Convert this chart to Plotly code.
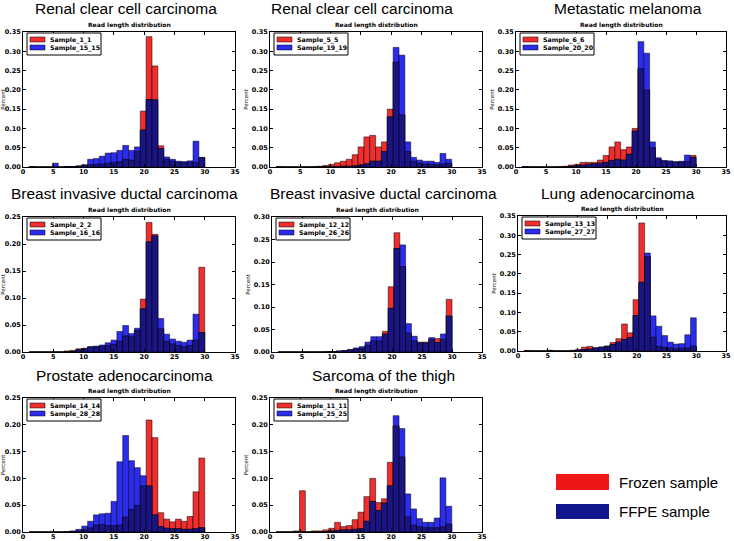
import numpy as np
import plotly.graph_objects as go

# ---------------- data ----------------
BIN_LO, BIN_HI, N_BINS = 1.0, 30.0, 30

titles = ["Renal clear cell carcinoma", "Renal clear cell carcinoma", "Metastatic melanoma",
          "Breast invasive ductal carcinoma", "Breast invasive ductal carcinoma", "Lung adenocarcinoma",
          "Prostate adenocarcinoma", "Sarcoma of the thigh"]
frozen_names = ["Sample_1_1", "Sample_5_5", "Sample_6_6", "Sample_2_2",
                "Sample_12_12", "Sample_13_13", "Sample_14_14", "Sample_11_11"]
ffpe_names = ["Sample_15_15", "Sample_19_19", "Sample_20_20", "Sample_16_16",
              "Sample_26_26", "Sample_27_27", "Sample_28_28", "Sample_25_25"]
y_max = [0.35, 0.35, 0.35, 0.25, 0.30, 0.35, 0.25, 0.25]
key_labels = ["Frozen sample", "FFPE sample"]

frozen_1 = [0.001, 0, 0, 0, 0, 0, 0.001, 0.001, 0.002, 0.004, 0.006, 0.007, 0.008, 0.010, 0.012,
            0.014, 0.020, 0.018, 0.040, 0.145, 0.338, 0.262, 0.055, 0.020, 0.015, 0.012, 0.011, 0.012, 0.012, 0.025]
ffpe_1 = [0.001, 0, 0, 0, 0.010, 0, 0.001, 0.001, 0.003, 0.006, 0.020, 0.022, 0.028, 0.036, 0.037,
          0.043, 0.056, 0.043, 0.052, 0.096, 0.175, 0.174, 0.048, 0.026, 0.020, 0.015, 0.014, 0.016, 0.067, 0.024]

frozen_2 = [0.001, 0, 0, 0, 0, 0, 0.001, 0.002, 0.004, 0.007, 0.011, 0.015, 0.020, 0.032, 0.052,
            0.078, 0.082, 0.052, 0.065, 0.150, 0.272, 0.135, 0.040, 0.015, 0.010, 0.008, 0.007, 0.006, 0.008, 0.010]
ffpe_2 = [0, 0, 0, 0, 0, 0, 0, 0, 0, 0.001, 0.001, 0.002, 0.002, 0.003, 0.005,
          0.008, 0.015, 0.015, 0.040, 0.130, 0.310, 0.290, 0.065, 0.025, 0.018, 0.015, 0.015, 0.012, 0.035, 0.020]

frozen_3 = [0.001, 0, 0, 0, 0, 0, 0.001, 0.002, 0.005, 0.007, 0.012, 0.012, 0.012, 0.018, 0.030,
            0.052, 0.065, 0.045, 0.052, 0.100, 0.255, 0.200, 0.050, 0.020, 0.015, 0.013, 0.012, 0.012, 0.014, 0.030]
ffpe_3 = [0.001, 0, 0, 0, 0, 0, 0, 0, 0.002, 0.003, 0.005, 0.007, 0.008, 0.010, 0.012,
          0.017, 0.020, 0.018, 0.033, 0.093, 0.325, 0.295, 0.065, 0.024, 0.017, 0.016, 0.014, 0.015, 0.031, 0.025]

frozen_4 = [0, 0, 0, 0, 0, 0, 0.002, 0.003, 0.006, 0.007, 0.009, 0.009, 0.010, 0.012, 0.014,
            0.020, 0.030, 0.028, 0.040, 0.098, 0.240, 0.218, 0.043, 0.020, 0.015, 0.012, 0.010, 0.012, 0.022, 0.157]
ffpe_4 = [0, 0, 0, 0, 0, 0, 0, 0.001, 0.004, 0.006, 0.010, 0.011, 0.013, 0.017, 0.022,
          0.038, 0.049, 0.034, 0.044, 0.080, 0.204, 0.215, 0.062, 0.033, 0.024, 0.020, 0.018, 0.022, 0.070, 0.036]

frozen_5 = [0, 0, 0, 0, 0, 0, 0, 0, 0.001, 0.001, 0.002, 0.003, 0.005, 0.007, 0.008,
            0.015, 0.025, 0.025, 0.046, 0.145, 0.265, 0.190, 0.042, 0.025, 0.020, 0.022, 0.028, 0.030, 0.028, 0.117]
ffpe_5 = [0, 0, 0, 0, 0, 0, 0, 0, 0, 0.001, 0.002, 0.003, 0.005, 0.009, 0.012,
          0.022, 0.034, 0.034, 0.040, 0.097, 0.230, 0.238, 0.063, 0.035, 0.022, 0.020, 0.032, 0.021, 0.040, 0.080]

frozen_6 = [0.001, 0, 0, 0, 0.002, 0, 0, 0, 0.002, 0.004, 0.010, 0.012, 0.008, 0.010, 0.013,
            0.022, 0.032, 0.070, 0.047, 0.133, 0.332, 0.245, 0.036, 0.012, 0.010, 0.008, 0.006, 0.007, 0.008, 0.013]
ffpe_6 = [0, 0, 0, 0, 0, 0, 0, 0, 0, 0.002, 0.004, 0.005, 0.008, 0.010, 0.012,
          0.017, 0.023, 0.030, 0.035, 0.092, 0.178, 0.254, 0.091, 0.064, 0.040, 0.023, 0.018, 0.019, 0.042, 0.086]

frozen_7 = [0, 0, 0, 0, 0, 0, 0, 0.001, 0.002, 0.004, 0.008, 0.013, 0.014, 0.012, 0.012,
            0.013, 0.028, 0.042, 0.050, 0.086, 0.209, 0.176, 0.036, 0.024, 0.019, 0.024, 0.020, 0.029, 0.075, 0.138]
ffpe_7 = [0, 0, 0, 0, 0, 0, 0.001, 0.002, 0.005, 0.011, 0.020, 0.032, 0.034, 0.035, 0.057,
          0.131, 0.180, 0.133, 0.120, 0.105, 0.086, 0.032, 0.010, 0.007, 0.006, 0.006, 0.005, 0.005, 0.006, 0.008]

frozen_8 = [0, 0, 0, 0.002, 0.077, 0, 0.002, 0.002, 0.004, 0.007, 0.018, 0.010, 0.012, 0.023, 0.037,
            0.066, 0.100, 0.055, 0.062, 0.130, 0.198, 0.140, 0.028, 0.013, 0.010, 0.008, 0.008, 0.008, 0.010, 0.015]
ffpe_8 = [0, 0, 0, 0, 0, 0, 0, 0, 0, 0.002, 0.003, 0.004, 0.004, 0.005, 0.006,
          0.020, 0.057, 0.040, 0.054, 0.086, 0.217, 0.193, 0.071, 0.043, 0.025, 0.018, 0.018, 0.026, 0.101, 0.048]

frozen_series = [frozen_1, frozen_2, frozen_3, frozen_4, frozen_5, frozen_6, frozen_7, frozen_8]
ffpe_series = [ffpe_1, ffpe_2, ffpe_3, ffpe_4, ffpe_5, ffpe_6, ffpe_7, ffpe_8]

# ---------------- styling / layout ----------------
W, H = 734, 541
RED = "#F02E2E"
BLUE = "#2C2CEE"
NAVY = "#1B1583"
LEG_RED = "#EE1616"
LEG_NAVY = "#12168C"
TICK_FONT = dict(family="DejaVu Sans", size=6.5, color="black", weight="bold")
LEG_FONT = dict(family="DejaVu Sans", size=6.3, color="black", weight="bold")
BIG_FONT = dict(family="Liberation Sans, Arial", size=15.5, color="black")

# panel boxes in pixels: (left, right, top, bottom)
boxes = [(23, 235, 32, 167), (270, 482, 32, 167), (516, 726, 32, 167),
         (23, 235, 217, 352), (272, 482, 217, 352), (518, 726, 216, 351),
         (23, 235, 398, 532), (270, 482, 398, 532)]
title_pos = [(126, 9), (362, 9), (628, 9), (124, 193), (384, 193), (618, 193), (125, 375), (384, 375)]


def px(x):
    return x / W


def py(y):
    return 1 - y / H


edges = np.linspace(BIN_LO, BIN_HI, N_BINS + 1)
centers = (edges[:-1] + edges[1:]) / 2
bw = edges[1] - edges[0]

fig = go.Figure()
shapes, annotations = [], []
layout = dict(width=W, height=H, margin=dict(l=0, r=0, t=0, b=0),
              paper_bgcolor="white", plot_bgcolor="white", barmode="overlay",
              showlegend=False)

edge_line = dict(color="rgba(0,0,0,0.85)", width=0.6)

for i in range(8):
    n = i + 1
    xa = "x" if n == 1 else f"x{n}"
    ya = "y" if n == 1 else f"y{n}"
    fr = np.array(frozen_series[i])
    ff = np.array(ffpe_series[i])
    fig.add_trace(go.Bar(x=centers, y=fr, width=bw, name=frozen_names[i], xaxis=xa, yaxis=ya,
                         marker=dict(color=RED, line=edge_line)))
    fig.add_trace(go.Bar(x=centers, y=ff, width=bw, name=ffpe_names[i], xaxis=xa, yaxis=ya,
                         marker=dict(color=BLUE, line=edge_line)))
    fig.add_trace(go.Bar(x=centers, y=np.minimum(fr, ff), width=bw, name="overlap", xaxis=xa, yaxis=ya,
                         marker=dict(color=NAVY, line=edge_line), hoverinfo="skip"))

    l, r, t, b = boxes[i]
    axis_common = dict(showline=True, linecolor="black", linewidth=1, mirror="ticks",
                       ticks="inside", ticklen=3, tickcolor="black", tickwidth=0.8,
                       showgrid=False, zeroline=False, tickfont=TICK_FONT, automargin=False)
    layout["xaxis" if n == 1 else f"xaxis{n}"] = dict(
        domain=[px(l), px(r)], anchor=ya, range=[0, 35], tickmode="array",
        tickvals=[0, 5, 10, 15, 20, 25, 30, 35], ticklabelstandoff=-2, **axis_common)
    layout["yaxis" if n == 1 else f"yaxis{n}"] = dict(
        domain=[py(b), py(t)], anchor=xa, range=[0, y_max[i]], dtick=0.05, tickformat=".2f",
        title=dict(text="Percent", font=dict(family="DejaVu Sans", size=5.5, color="black"), standoff=2),
        ticklabelstandoff=0, **axis_common)

    # small chart title
    annotations.append(dict(
        text="Read length distribution", x=px((l + r) / 2), y=py(t - 1), xref="paper", yref="paper",
        xanchor="center", yanchor="bottom", showarrow=False,
        font=dict(family="DejaVu Sans", size=6, color="black", weight="bold")))
    # big panel title
    tx, ty = title_pos[i]
    annotations.append(dict(
        text=titles[i], x=px(tx), y=py(ty), xref="paper", yref="paper",
        xanchor="center", yanchor="middle", showarrow=False, font=BIG_FONT))

    # in-panel legend (matplotlib style box)
    shapes.append(dict(type="rect", xref="paper", yref="paper",
                       x0=px(l + 4), x1=px(l + 78), y0=py(t + 23), y1=py(t + 1),
                       fillcolor="white", line=dict(color="black", width=1)))
    for row, (nm, col) in enumerate([(frozen_names[i], RED), (ffpe_names[i], BLUE)]):
        yc = t + 7.5 + row * 8
        shapes.append(dict(type="rect", xref="paper", yref="paper",
                           x0=px(l + 7), x1=px(l + 22), y0=py(yc + 2.5), y1=py(yc - 2.5),
                           fillcolor=col, line=dict(color="black", width=0.5)))
        annotations.append(dict(text=nm, x=px(l + 25), y=py(yc), xref="paper", yref="paper",
                                xanchor="left", yanchor="middle", showarrow=False, font=LEG_FONT))

# overall key, bottom right
key_rows = [(key_labels[0], LEG_RED, 474, 490), (key_labels[1], LEG_NAVY, 504, 519)]
for label, col, y0, y1 in key_rows:
    shapes.append(dict(type="rect", xref="paper", yref="paper",
                       x0=px(556), x1=px(609), y0=py(y1), y1=py(y0),
                       fillcolor=col, line=dict(width=0)))
    annotations.append(dict(text=label, x=px(617), y=py((y0 + y1) / 2),
                            xref="paper", yref="paper", xanchor="left", yanchor="middle",
                            showarrow=False, font=dict(family="Liberation Sans, Arial", size=15, color="black")))

layout["shapes"] = shapes
layout["annotations"] = annotations
fig.update_layout(**layout)
fig.write_html("out.html", config={"displayModeBar": False},
               post_script="document.body.style.margin='0';document.body.style.overflow='hidden';")
